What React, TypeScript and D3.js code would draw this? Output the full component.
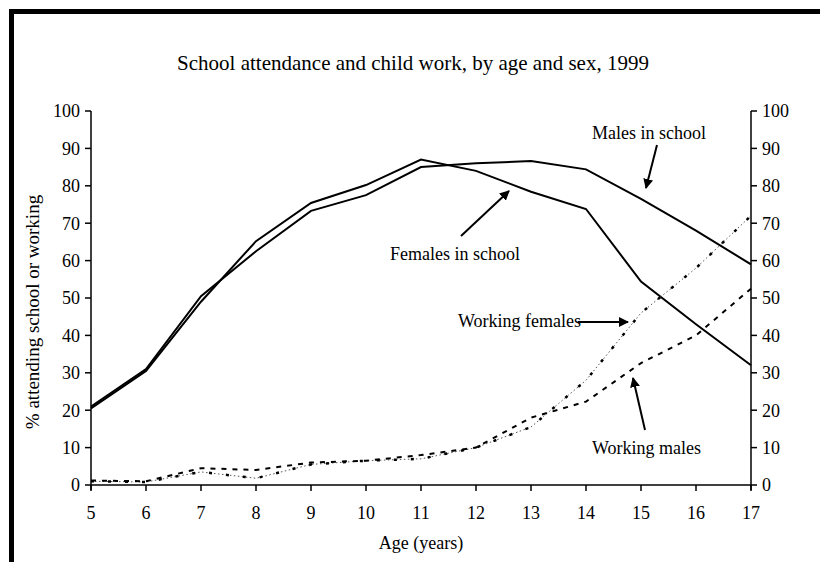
import React from "react";
import * as d3 from "d3";

const ages = [5, 6, 7, 8, 9, 10, 11, 12, 13, 14, 15, 16, 17];
const malesSchool = [21, 31, 50.5, 62.5, 73.3, 77.5, 85, 86, 86.6, 84.4, 76.5, 68, 59];
const femalesSchool = [20.5, 30.5, 49, 65.2, 75.4, 80.2, 87, 84, 78.4, 73.8, 54.4, 43, 32];
const workingMales = [1.2, 1, 4.5, 4, 6, 6.5, 8, 10, 18, 22.3, 32.6, 40, 52.5];
const workingFemales = [1, 0.8, 3.5, 1.8, 5.5, 6.5, 7, 10, 15.5, 28, 46, 58, 72];
const yTicks = [0, 10, 20, 30, 40, 50, 60, 70, 80, 90, 100];

const W = 820;
const H = 562;
const X0 = 91;
const X1 = 751;
const Y0 = 485;
const Y1 = 111;
const FONT = '"Liberation Serif", "DejaVu Serif", serif';

export default function App() {
  const x = d3.scaleLinear().domain([5, 17]).range([X0, X1]);
  const y = d3.scaleLinear().domain([0, 100]).range([Y0, Y1]);
  const line = (vals: number[]) =>
    d3
      .line<number>()
      .x((_, i) => x(ages[i]))
      .y((d) => y(d))(vals) as string;

  const ts = (size: number): React.CSSProperties => ({ fontFamily: FONT, fontSize: size + "px" });

  const arrow = (x1: number, y1: number, x2: number, y2: number, key: string) => (
    <line key={key} x1={x1} y1={y1} x2={x2} y2={y2} stroke="#000" strokeWidth={2} markerEnd="url(#ah)" />
  );

  return (
    <svg width={W} height={H} style={{ position: "absolute", left: 0, top: 0, background: "#fff" }}>
      <defs>
        <marker id="ah" viewBox="0 0 10 10" refX="9" refY="5" markerWidth="5" markerHeight="5" orient="auto">
          <path d="M0,0 L10,5 L0,10 z" fill="#000" />
        </marker>
      </defs>
      <rect width={W} height={H} fill="#fff" />
      <path d={`M11.5,${H} L11.5,11.5 L${W},11.5`} fill="none" stroke="#000" strokeWidth={5} />

      <text x={413} y={70} textAnchor="middle" style={ts(21)}>
        School attendance and child work, by age and sex, 1999
      </text>

      {/* left axis */}
      <line x1={X0} y1={Y1} x2={X0} y2={Y0 + 5} stroke="#000" strokeWidth={1.5} />
      {yTicks.map((t) => (
        <g key={"l" + t}>
          <line x1={X0 - 6} x2={X0} y1={y(t)} y2={y(t)} stroke="#000" strokeWidth={1.5} />
          <text x={X0 - 11} y={y(t)} dy="0.35em" textAnchor="end" style={ts(18)}>
            {t}
          </text>
        </g>
      ))}
      {/* right axis */}
      <line x1={X1} y1={Y1} x2={X1} y2={Y0 + 5} stroke="#000" strokeWidth={1.5} />
      {yTicks.map((t) => (
        <g key={"r" + t}>
          <line x1={X1} x2={X1 + 6} y1={y(t)} y2={y(t)} stroke="#000" strokeWidth={1.5} />
          <text x={X1 + 11} y={y(t)} dy="0.35em" textAnchor="start" style={ts(18)}>
            {t}
          </text>
        </g>
      ))}
      {/* x axis */}
      <line x1={X0} y1={Y0} x2={X1} y2={Y0} stroke="#000" strokeWidth={1.5} />
      {ages.map((a) => (
        <g key={"x" + a}>
          <line x1={x(a)} x2={x(a)} y1={Y0} y2={Y0 + 6} stroke="#000" strokeWidth={1.5} />
          <text x={x(a)} y={Y0 + 34} textAnchor="middle" style={ts(18)}>
            {a}
          </text>
        </g>
      ))}
      <text x={421} y={549} textAnchor="middle" style={ts(18)}>
        Age (years)
      </text>
      <text transform={`translate(39,${312}) rotate(-90)`} textAnchor="middle" style={ts(19)}>
        % attending school or working
      </text>

      {/* series */}
      <path d={line(malesSchool)} fill="none" stroke="#000" strokeWidth={2} />
      <path d={line(femalesSchool)} fill="none" stroke="#000" strokeWidth={2} />
      <path d={line(workingFemales)} fill="none" stroke="#555" strokeWidth={1} strokeDasharray="1.5 2.5" />
      <path d={line(workingFemales)} fill="none" stroke="#000" strokeWidth={2.5} strokeDasharray="3 14" />
      <path d={line(workingMales)} fill="none" stroke="#000" strokeWidth={2} strokeDasharray="5 6" />

      {/* annotations */}
      <text x={592} y={139} style={ts(18)}>Males in school</text>
      {arrow(657, 145, 646, 188, "a1")}
      <text x={390} y={260} style={ts(18)}>Females in school</text>
      {arrow(461, 236, 509, 191, "a2")}
      <text x={458} y={327} style={ts(18)}>Working females</text>
      {arrow(578, 322, 628, 322, "a3")}
      <text x={592} y={454} style={ts(18)}>Working males</text>
      {arrow(645, 430, 633, 378, "a4")}
    </svg>
  );
}
